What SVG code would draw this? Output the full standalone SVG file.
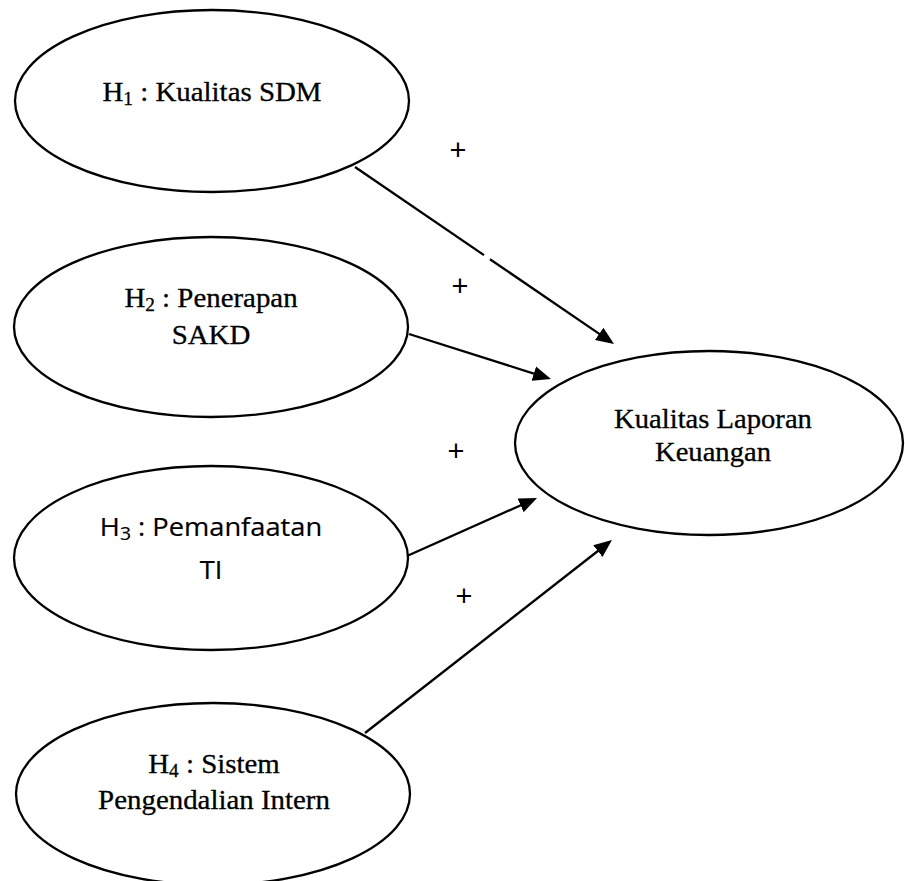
<svg xmlns="http://www.w3.org/2000/svg" width="905" height="881" viewBox="0 0 905 881">
<style>
.node ellipse{fill:#fff;stroke:#000;stroke-width:2.3}
.serif{font-family:"Liberation Serif","Times New Roman",serif;font-size:27px;fill:#000;text-anchor:middle;stroke:#000;stroke-width:0.3}
.sans{font-family:"Open Sans","Noto Sans",sans-serif;font-size:25.5px;fill:#000;text-anchor:middle;stroke:#000;stroke-width:0.2}
.sub{font-size:18px}
.conn path{stroke:#000;stroke-width:2.3;fill:none;marker-end:url(#ah)}
.plus{font-family:"Liberation Sans",Arial,sans-serif;font-size:29px;fill:#000;text-anchor:middle}
</style>
<defs>
<marker id="ah" markerUnits="userSpaceOnUse" markerWidth="18" markerHeight="16" viewBox="0 0 18 16" refX="9" refY="8" orient="auto">
<path d="M0,0.5 L18,8 L0,15.5 z" fill="#000"/>
</marker>
</defs>
<rect width="905" height="881" fill="#fff"/>
<g id="connectors" class="conn">
<path d="M355,167 L484,255.1 M490,259.2 L606.6,338.9"/>
<path d="M409,334 L542.4,376.3"/>
<path d="M407,556 L528.8,501.7"/>
<path d="M365,733 L604.9,545.5"/>
</g>
<g id="h1" class="node">
<ellipse cx="212" cy="101" rx="197" ry="91"/>
<g transform="translate(212,0) scale(1.07,1)">
<text class="serif" x="0" y="101">H<tspan class="sub" dy="4">1</tspan><tspan dy="-4"> : Kualitas SDM</tspan></text>
</g>
</g>
<g id="h2" class="node">
<ellipse cx="211" cy="327" rx="197" ry="90"/>
<g transform="translate(211,0) scale(1.07,1)">
<text class="serif" x="0" y="307">H<tspan class="sub" dy="4">2</tspan><tspan dy="-4"> : Penerapan</tspan></text>
<text class="serif" x="0" y="344">SAKD</text>
</g>
</g>
<g id="h3" class="node">
<ellipse cx="211" cy="558" rx="197" ry="92"/>
<g transform="translate(211,0) scale(1.07,1)">
<text class="sans" x="0" y="536">H<tspan class="sub" dy="4">3</tspan><tspan dy="-4"> : Pemanfaatan</tspan></text>
<text class="sans" x="0" y="579">TI</text>
</g>
</g>
<g id="h4" class="node">
<ellipse cx="213" cy="794" rx="197" ry="91"/>
<g transform="translate(214,0) scale(1.07,1)">
<text class="serif" x="0" y="773">H<tspan class="sub" dy="4">4</tspan><tspan dy="-4"> : Sistem</tspan></text>
<text class="serif" x="0" y="809">Pengendalian Intern</text>
</g>
</g>
<g id="y" class="node">
<ellipse cx="709" cy="443" rx="194" ry="92"/>
<g transform="translate(713,0) scale(1.06,1)">
<text class="serif" x="0" y="428">Kualitas Laporan</text>
<text class="serif" x="0" y="461">Keuangan</text>
</g>
</g>
<g id="labels">
<text class="plus" x="458" y="160">+</text>
<text class="plus" x="460" y="296">+</text>
<text class="plus" x="456" y="461">+</text>
<text class="plus" x="464" y="606">+</text>
</g>
</svg>
